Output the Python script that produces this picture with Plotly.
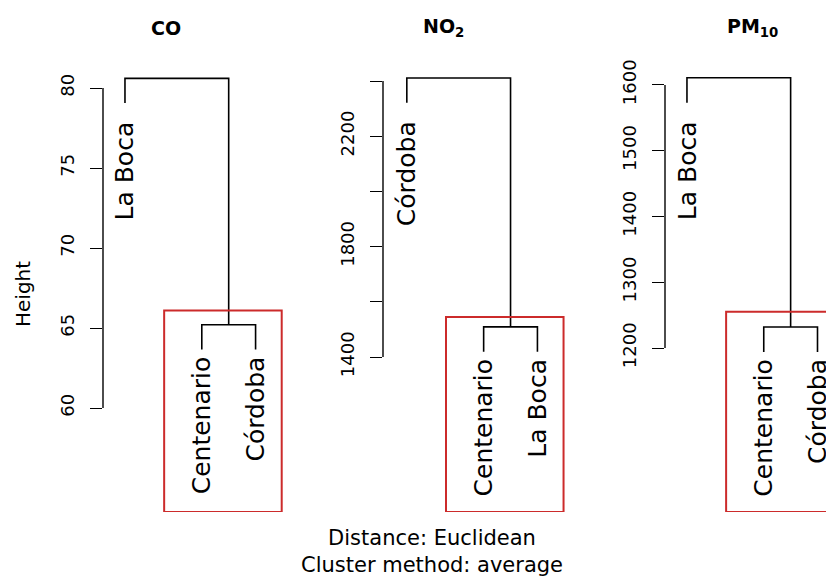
import plotly.graph_objects as go

# Hierarchical clustering of stations per pollutant (euclidean, average linkage)
pollutants = ["CO", "NO<sub>2</sub>", "PM<sub>10</sub>"]
leaf_labels = [
    ["La Boca", "Centenario", "Córdoba"],
    ["Córdoba", "Centenario", "La Boca"],
    ["La Boca", "Centenario", "Córdoba"],
]
join_low = [65.2, 1509, 1232]     # first merge (pair inside the red box)
join_high = [80.6, 2411, 1611]    # final merge
rect_top = [66.1, 1545, 1255]     # top of the k=2 cluster box
tick_vals = [
    [60, 65, 70, 75, 80],
    [1400, 1600, 1800, 2000, 2200, 2400],
    [1200, 1300, 1400, 1500, 1600],
]
tick_text = [
    ["60", "65", "70", "75", "80"],
    ["1400", "", "1800", "", "2200", ""],
    ["1200", "1300", "1400", "1500", "1600"],
]

# layout, given in pixels of the reference page; the html body adds an 8px margin
W, H = 834, 576
OFF = 8
x_dom_px = [(103, 294), (383, 574), (665, 842)]
x_ranges = [(0.714, 3.2), (0.69, 3.176), (0.714, 3.019)]
y_dom_px = (512, 60)
y_ranges = [(53.5, 81.75), (838.4, 2476.1), (950.6, 1638.0)]
leaf_pos = [1.0, 2.0, 2.7]
title_x_px = [166, 443, 752]
FONT = "DejaVu Sans"
BOX_RED = "#cc2b2b"


def px_x(p):
    return (p - OFF) / W


def px_y(p):
    return 1 - (p - OFF) / H


fig = go.Figure()
annotations = []
shapes = []

for i in range(3):
    xa = "x" if i == 0 else "x%d" % (i + 1)
    ya = "y" if i == 0 else "y%d" % (i + 1)
    lo, hi = join_low[i], join_high[i]
    hang = 0.1 * (hi - lo)
    x0, x1, x2 = leaf_pos
    mid = (x1 + x2) / 2
    fig.add_trace(go.Scatter(
        x=[x0, x0, mid, mid, None, x1, x1, x2, x2],
        y=[hi - hang, hi, hi, lo, None, lo - hang, lo, lo, lo - hang],
        mode="lines", line=dict(color="black", width=1.6),
        xaxis=xa, yaxis=ya, showlegend=False, hoverinfo="skip",
    ))

    # leaf labels
    ends = [hi - hang, lo - hang, lo - hang]
    gaps = [16, 5, 5]
    for lab, xp, ye, g in zip(leaf_labels[i], leaf_pos, ends, gaps):
        annotations.append(dict(
            text=lab, x=xp, y=ye, xref=xa, yref=ya, showarrow=False,
            textangle=-90, xanchor="center", yanchor="top", yshift=-g,
            font=dict(family=FONT, size=25, color="black"),
        ))

    # axis line only between first and last tick (R style)
    shapes.append(dict(
        type="line", xref=xa + " domain", yref=ya, x0=0, x1=0,
        y0=min(tick_vals[i]), y1=max(tick_vals[i]),
        line=dict(color="black", width=1.4),
    ))
    # cluster box
    shapes.append(dict(
        type="rect", xref=xa, yref=ya,
        x0=x1 - 0.49, x1=x2 + 0.34, y0=y_ranges[i][0], y1=rect_top[i],
        line=dict(color=BOX_RED, width=2),
    ))

    annotations.append(dict(
        text="<b>%s</b>" % pollutants[i], x=px_x(title_x_px[i]), y=px_y(28),
        xref="paper", yref="paper", showarrow=False,
        xanchor="center", yanchor="middle",
        font=dict(family=FONT, size=19, color="black"),
    ))

    xd = x_dom_px[i]
    fig.layout["xaxis" if i == 0 else "xaxis%d" % (i + 1)] = dict(
        domain=[px_x(xd[0]), min(1.0, px_x(xd[1]))], range=list(x_ranges[i]),
        visible=False, anchor=ya,
    )
    fig.layout["yaxis" if i == 0 else "yaxis%d" % (i + 1)] = dict(
        domain=[px_y(y_dom_px[0]), px_y(y_dom_px[1])],
        range=list(y_ranges[i]), anchor=xa,
        showline=False, showgrid=False, zeroline=False,
        ticks="outside", ticklen=12, tickwidth=1.4, tickcolor="black",
        tickvals=tick_vals[i], ticktext=tick_text[i], tickangle=-90,
        ticklabelstandoff=9,
        tickfont=dict(family=FONT, size=18, color="black"),
    )

annotations.append(dict(
    text="Height", x=px_x(23), y=px_y(294), xref="paper", yref="paper",
    showarrow=False, textangle=-90, xanchor="center", yanchor="middle",
    font=dict(family=FONT, size=20, color="black"),
))
annotations.append(dict(
    text="Distance: Euclidean<br>Cluster method: average",
    x=px_x(432), y=px_y(551), xref="paper", yref="paper",
    showarrow=False, xanchor="center", yanchor="middle",
    font=dict(family=FONT, size=21, color="black"),
))

fig.update_layout(
    width=W, height=H, margin=dict(l=0, r=0, t=0, b=0),
    paper_bgcolor="white", plot_bgcolor="white",
    annotations=annotations, shapes=shapes,
)

fig.write_html("out.html")
